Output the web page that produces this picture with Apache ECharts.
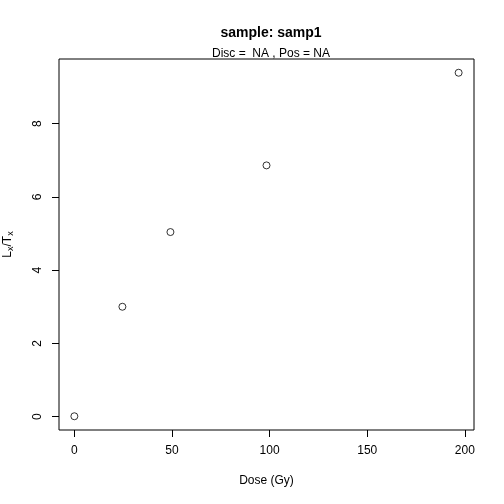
<!DOCTYPE html>
<html>
<head>
<meta charset="utf-8">
<script src="https://cdn.jsdelivr.net/npm/echarts@6/dist/echarts.min.js"></script>
<style>
  html, body { margin: 0; padding: 0; background: #fff; }
  #main { width: 504px; height: 504px; }
</style>
</head>
<body>
<div id="main"></div>
<script>
// dose points (Gy) and Lx/Tx values
var doses = [0, 24.6, 49.2, 98.4, 196.8]
var lxtx = [0.01, 3.0, 5.04, 6.86, 9.39]
var xTicks = [0, 50, 100, 150, 200]
var yTicks = [0, 2, 4, 6, 8]

// R style axis range: data range expanded by 4% each side
function rRange (arr) {
  var lo = Math.min.apply(null, arr), hi = Math.max.apply(null, arr)
  var pad = (hi - lo) * 0.04
  return [lo - pad, hi + pad]
}
var xr = rRange(doses)
var yr = rRange(lxtx)

var font = 'Liberation Sans, Arial, Helvetica, sans-serif'
var myChart = echarts.init(document.getElementById('main'))
var option = {
  animation: false,
  title: [
    {
      text: 'sample: samp1',
      left: 266, top: 21, textAlign: 'center',
      textStyle: { fontFamily: font, fontSize: 14, fontWeight: 'bold', color: '#000' }
    },
    {
      text: 'Disc =  NA , Pos = NA',
      left: 266, top: 43, textAlign: 'center',
      textStyle: { fontFamily: font, fontSize: 12, fontWeight: 'normal', color: '#000' }
    }
  ],
  grid: {
    left: 59, right: 30, top: 59, bottom: 74,
    outerBoundsMode: 'none', containLabel: false,
    show: true, borderColor: '#000', borderWidth: 1, backgroundColor: 'transparent'
  },
  xAxis: {
    type: 'value',
    min: xr[0], max: xr[1],
    name: 'Dose (Gy)',
    nameLocation: 'middle',
    nameGap: 45,
    nameTextStyle: { fontFamily: font, fontSize: 12, color: '#000' },
    axisLine: { show: false, onZero: false },
    splitLine: { show: false },
    axisTick: { show: true, length: 7, customValues: xTicks, lineStyle: { color: '#000' } },
    axisLabel: { customValues: xTicks, margin: 15, fontFamily: font, fontSize: 12, color: '#000' }
  },
  yAxis: {
    type: 'value',
    min: yr[0], max: yr[1],
    name: '{n|L}{s|x}{n|/T}{s|x}',
    nameLocation: 'middle',
    nameGap: 44,
    nameRotate: 90,
    nameTextStyle: {
      fontFamily: font, fontSize: 12, color: '#000',
      rich: {
        n: { fontFamily: font, fontSize: 12, color: '#000' },
        s: { fontFamily: font, fontSize: 9, color: '#000', verticalAlign: 'bottom', padding: [6, 0, 0, 0] }
      }
    },
    axisLine: { show: false, onZero: false },
    splitLine: { show: false },
    axisTick: { show: true, length: 7, customValues: yTicks, lineStyle: { color: '#000' } },
    axisLabel: { customValues: yTicks, rotate: 90, margin: 15, fontFamily: font, fontSize: 12, color: '#000' }
  },
  series: [
    {
      type: 'scatter',
      data: doses.map(function (d, i) { return [d, lxtx[i]] }),
      symbol: 'circle',
      symbolSize: 7,
      itemStyle: { color: 'transparent', borderColor: '#000', borderWidth: 1 }
    }
  ]
}
myChart.setOption(option)
</script>
</body>
</html>
